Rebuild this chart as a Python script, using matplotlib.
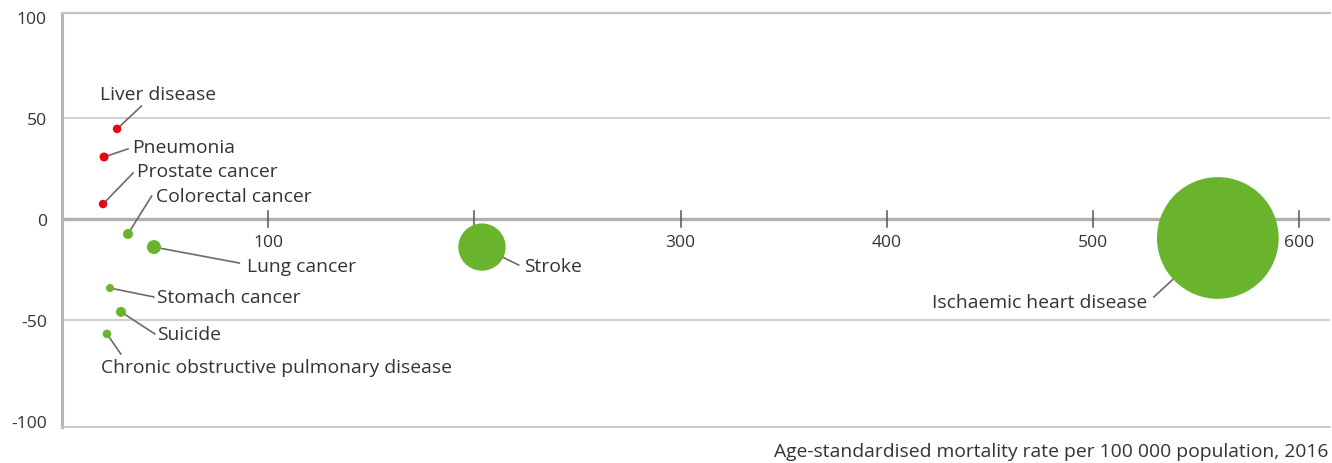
import matplotlib
matplotlib.use("Agg")
import matplotlib.pyplot as plt

plt.rcParams['font.family'] = ['Open Sans', 'DejaVu Sans']

causes = ["Liver disease", "Pneumonia", "Prostate cancer", "Colorectal cancer",
          "Lung cancer", "Stroke", "Ischaemic heart disease", "Stomach cancer",
          "Suicide", "Chronic obstructive pulmonary disease"]
mortality_rate = [26.7, 20.4, 19.9, 32.0, 44.6, 203.7, 560.6, 23.3, 28.6, 21.8]
pct_change = [44.6, 30.7, 7.4, -7.4, -13.9, -13.9, -9.4, -34.2, -46.0, -56.9]
bubble_value = [72, 81, 72, 100, 196, 2237, 14811, 64, 100, 72]
direction = ["up", "up", "up", "down", "down", "down", "down", "down", "down", "down"]
# label anchor (text position) and leader end in data units
label_x = [18.5, 34.0, 36.5, 45.5, 89.5, 224.0, 526.2, 46.0, 46.0, 19.0]
label_y = [61.9, 35.6, 23.8, 11.4, -23.3, -23.3, -41.1, -38.6, -56.9, -73.3]
leader_x = [38.5, 32.0, 34.5, 43.5, 86.0, 221.5, 529.6, 44.5, 45.0, 28.5]
leader_y = [55.9, 34.7, 22.8, 11.4, -21.8, -22.8, -38.6, -38.6, -56.9, -66.8]
label_ha = ["left", "left", "left", "left", "left", "left", "right", "left", "left", "left"]

x_ticks = [100, 200, 300, 400, 500, 600]
y_ticks = [-100, -50, 0, 50, 100]
x_title = "Age-standardised mortality rate per 100 000 population, 2016"

RED = "#e30613"
GREEN = "#6ab42d"
TXT = "#333333"
LABEL_FS = 13.9
TICK_FS = 12.6

W, H = 1332, 464
fig = plt.figure(figsize=(W / 100, H / 100), dpi=100)
ax_left, ax_right, ax_top, ax_bottom = 62, 1330, 14, 428
ax = fig.add_axes([ax_left / W, (H - ax_bottom) / H, (ax_right - ax_left) / W, (ax_bottom - ax_top) / H])
ax.set_xlim(0, 615)
ax.set_ylim(-103, 102)

for s in ["right"]:
    ax.spines[s].set_visible(False)
ax.spines["left"].set_color("#b4b4b4")
ax.spines["left"].set_linewidth(2.2)
ax.spines["top"].set_color("#c4c4c4")
ax.spines["top"].set_linewidth(1.6)
ax.spines["bottom"].set_color("#c4c4c4")
ax.spines["bottom"].set_linewidth(1.2)

for yv in [50, -50]:
    ax.axhline(yv, color="#c4c4c4", lw=1.1, zorder=0)
ax.axhline(0, color="#b0b0b0", lw=2.4, zorder=1)

ax.set_xticks([])
ax.set_yticks(y_ticks)
ax.set_yticklabels([str(v) for v in y_ticks], fontsize=TICK_FS, color=TXT)
ax.tick_params(axis="y", length=0, pad=11)

for xv in x_ticks:
    ax.plot([xv, xv], [-4.0, 4.0], color="#555555", lw=1.1, zorder=2)
    ax.text(xv, -11.4, str(xv), ha="center", va="center", fontsize=TICK_FS, color=TXT)

for i in range(len(causes)):
    col = RED if direction[i] == "up" else GREEN
    d_px = bubble_value[i] ** 0.5
    ax.scatter(mortality_rate[i], pct_change[i], s=(d_px * 0.72) ** 2, color=col,
               edgecolors="none", zorder=3)
    ax.plot([mortality_rate[i], leader_x[i]], [pct_change[i], leader_y[i]],
            color="#6a6a6a", lw=1.2, zorder=2.5)
    ax.text(label_x[i], label_y[i], causes[i], ha=label_ha[i], va="center",
            fontsize=LABEL_FS, color=TXT, zorder=4)

fig.text(1328 / W, 1 - 452 / H, x_title, ha="right", va="center", fontsize=LABEL_FS, color=TXT)

fig.savefig("out.png", dpi=100)
